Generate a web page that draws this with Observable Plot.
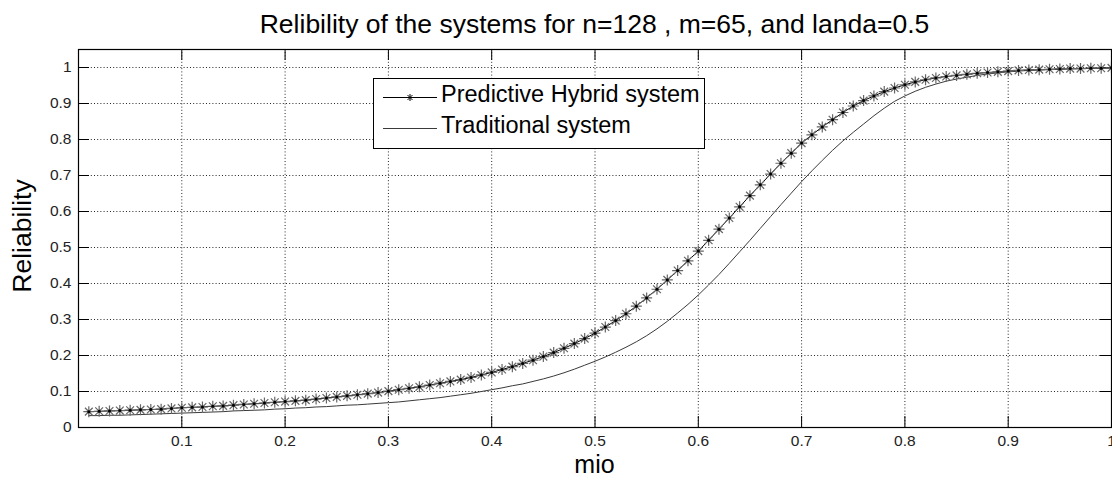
<!DOCTYPE html>
<html>
<head>
<meta charset="utf-8">
<script src="https://cdn.jsdelivr.net/npm/d3@7"></script>
<script src="https://cdn.jsdelivr.net/npm/@observablehq/plot@0.6"></script>
<style>
  html, body { margin: 0; padding: 0; background: #fff; }
  #chart svg { display: block; }
</style>
</head>
<body>
<div id="chart"></div>
<script>
// ---- data ----
const mio = [
  0.01,0.02,0.03,0.04,0.05,0.06,0.07,0.08,0.09,0.10,
  0.11,0.12,0.13,0.14,0.15,0.16,0.17,0.18,0.19,0.20,
  0.21,0.22,0.23,0.24,0.25,0.26,0.27,0.28,0.29,0.30,
  0.31,0.32,0.33,0.34,0.35,0.36,0.37,0.38,0.39,0.40,
  0.41,0.42,0.43,0.44,0.45,0.46,0.47,0.48,0.49,0.50,
  0.51,0.52,0.53,0.54,0.55,0.56,0.57,0.58,0.59,0.60,
  0.61,0.62,0.63,0.64,0.65,0.66,0.67,0.68,0.69,0.70,
  0.71,0.72,0.73,0.74,0.75,0.76,0.77,0.78,0.79,0.80,
  0.81,0.82,0.83,0.84,0.85,0.86,0.87,0.88,0.89,0.90,
  0.91,0.92,0.93,0.94,0.95,0.96,0.97,0.98,0.99,1.00
];
const hybrid = [
  0.044,0.045,0.046,0.047,0.048,0.049,0.050,0.051,0.053,0.055,
  0.056,0.057,0.059,0.060,0.062,0.064,0.066,0.068,0.070,0.072,
  0.074,0.076,0.079,0.082,0.085,0.088,0.091,0.094,0.097,0.101,
  0.105,0.109,0.113,0.118,0.123,0.128,0.133,0.139,0.146,0.153,
  0.161,0.169,0.178,0.187,0.197,0.208,0.220,0.233,0.247,0.262,
  0.279,0.297,0.316,0.337,0.360,0.384,0.410,0.436,0.463,0.490,
  0.520,0.551,0.582,0.613,0.644,0.674,0.704,0.734,0.762,0.790,
  0.813,0.835,0.855,0.875,0.893,0.908,0.921,0.933,0.943,0.952,
  0.960,0.966,0.971,0.975,0.978,0.981,0.984,0.986,0.988,0.990,
  0.992,0.993,0.994,0.995,0.996,0.997,0.997,0.998,0.998,0.999
];
const traditional = [
  0.033,0.033,0.034,0.034,0.035,0.036,0.037,0.038,0.039,0.040,
  0.041,0.042,0.043,0.044,0.046,0.047,0.048,0.049,0.051,0.052,
  0.054,0.055,0.057,0.058,0.060,0.062,0.063,0.065,0.067,0.069,
  0.071,0.074,0.077,0.080,0.083,0.087,0.091,0.095,0.100,0.105,
  0.110,0.116,0.121,0.128,0.135,0.143,0.152,0.162,0.173,0.184,
  0.196,0.209,0.223,0.238,0.255,0.274,0.295,0.318,0.342,0.368,
  0.396,0.425,0.456,0.488,0.520,0.553,0.586,0.619,0.651,0.683,
  0.713,0.742,0.770,0.796,0.820,0.843,0.866,0.887,0.906,0.921,
  0.934,0.945,0.954,0.962,0.968,0.973,0.978,0.982,0.985,0.988,
  0.990,0.992,0.993,0.994,0.995,0.996,0.997,0.998,0.998,0.999
];
const xTicks = [0.1,0.2,0.3,0.4,0.5,0.6,0.7,0.8,0.9,1];
const yTicks = [0,0.1,0.2,0.3,0.4,0.5,0.6,0.7,0.8,0.9,1];
const seriesNames = ["Predictive Hybrid system", "Traditional system"];
const titleText = "Relibility of the systems for n=128 , m=65, and landa=0.5";
const xLabel = "mio";
const yLabel = "Reliability";

const hybridData = mio.map((m, i) => ({mio: m, value: hybrid[i]}));
const tradData = mio.map((m, i) => ({mio: m, value: traditional[i]}));

// 8-armed asterisk like MATLAB's '*'
function drawStar(ctx, r) {
  const d = r * Math.SQRT1_2;
  ctx.moveTo(-r, 0); ctx.lineTo(r, 0);
  ctx.moveTo(0, -r); ctx.lineTo(0, r);
  ctx.moveTo(-d, -d); ctx.lineTo(d, d);
  ctx.moveTo(-d, d); ctx.lineTo(d, -d);
}
const starSymbol = { draw(ctx, size) { drawStar(ctx, Math.sqrt(size / Math.PI)); } };

const W = 1112, H = 482;
const mL = 78, mR = 1, mT = 49, mB = 55;
const frameW = W - mL - mR, frameH = H - mT - mB;
const tickLen = 11;
const FONT = "'Liberation Sans', Arial, Helvetica, sans-serif";
const TICK_FS = 15.5;
const fmt = d3.format("");

const chart = Plot.plot({
  width: W, height: H,
  marginLeft: mL, marginRight: mR, marginTop: mT, marginBottom: mB,
  style: { fontFamily: FONT, background: "#fff", color: "#000" },
  x: { domain: [0, 1], axis: null },
  y: { domain: [0, 1.05], axis: null },
  marks: [
    Plot.gridX(xTicks.filter(d => d < 1), { stroke: "#000", strokeOpacity: 0.85, strokeDasharray: "1,2.2" }),
    Plot.gridY(yTicks.filter(d => d > 0), { stroke: "#000", strokeOpacity: 0.85, strokeDasharray: "1,2.2" }),
    // inward ticks
    Plot.tickX(xTicks, { x: d => d, insetTop: frameH - tickLen, stroke: "#000" }),
    Plot.tickX(xTicks, { x: d => d, insetBottom: frameH - tickLen, stroke: "#000" }),
    Plot.tickY(yTicks, { y: d => d, insetRight: frameW - tickLen, stroke: "#000" }),
    Plot.tickY(yTicks, { y: d => d, insetLeft: frameW - tickLen, stroke: "#000" }),
    // tick labels
    Plot.text(xTicks, { x: d => d, text: fmt, frameAnchor: "bottom", lineAnchor: "top", dy: 7, fontSize: TICK_FS, fill: "#222" }),
    Plot.text(yTicks, { y: d => d, text: fmt, frameAnchor: "left", textAnchor: "end", dx: -7, fontSize: TICK_FS, fill: "#222" }),
    // series
    Plot.line(tradData, { x: "mio", y: "value", stroke: "#3a3a3a", strokeWidth: 1 }),
    Plot.line(hybridData, { x: "mio", y: "value", stroke: "#000", strokeWidth: 1 }),
    Plot.dot(hybridData, { x: "mio", y: "value", symbol: starSymbol, r: 5.5, stroke: "#666", strokeWidth: 1.2, fill: "none" }),
    Plot.dot(hybridData, { x: "mio", y: "value", r: 1.5, fill: "#000", stroke: null }),
    Plot.frame({ stroke: "#000", strokeWidth: 1.2 })
  ]
});

const svg = d3.select(chart);
// title and axis labels
const lbl = svg.append("g").attr("font-family", FONT).attr("fill", "#000");
lbl.append("text").attr("x", (mL + W - mR) / 2).attr("y", 33).attr("text-anchor", "middle")
  .attr("font-size", 26.5).text(titleText);
lbl.append("text").attr("x", (mL + W - mR) / 2).attr("y", 473).attr("text-anchor", "middle")
  .attr("font-size", 25).text(xLabel);
lbl.append("text").attr("transform", "translate(31,236) rotate(-90)").attr("text-anchor", "middle")
  .attr("font-size", 26.5).text(yLabel);

// legend (MATLAB-style box)
const lg = svg.append("g").attr("font-family", FONT);
lg.append("rect").attr("x", 373.5).attr("y", 78.5).attr("width", 331).attr("height", 70)
  .attr("fill", "#fff").attr("stroke", "#000").attr("stroke-width", 1);
const rows = [97.5, 128.5];
rows.forEach((y, i) => {
  lg.append("line").attr("x1", 383).attr("x2", 437).attr("y1", y).attr("y2", y)
    .attr("stroke", i === 0 ? "#000" : "#3a3a3a").attr("stroke-width", 1);
  if (i === 0) {
    const p = d3.path(); drawStar(p, 3.5);
    lg.append("path").attr("d", p.toString()).attr("transform", `translate(410,${y})`)
      .attr("stroke", "#000").attr("fill", "none").attr("stroke-width", 1);
  }
  lg.append("text").attr("x", 441).attr("y", y + 4.8).attr("font-size", 23.5)
    .attr("text-anchor", "start").attr("fill", "#000").text(seriesNames[i]);
});

document.getElementById("chart").appendChild(chart);
</script>
</body>
</html>
